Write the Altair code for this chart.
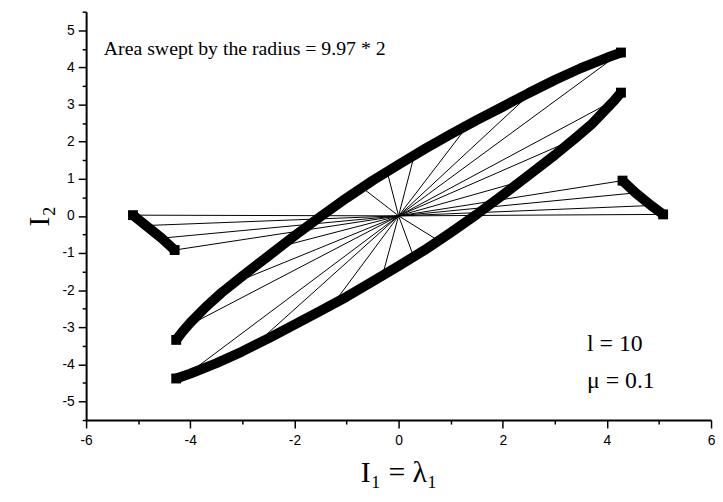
import altair as alt
import pandas as pd

# ---- thick curves (centre line) ----
upper_x = [-4.27, -4.15, -4.0, -3.7, -3.4, -3.0, -2.5, -2.0, -1.5, -1.0, -0.5, 0.0,
           0.5, 1.0, 1.5, 2.0, 2.5, 3.0, 3.5, 4.0, 4.27]
upper_y = [-3.34, -3.12, -2.88, -2.45, -2.07, -1.62, -1.08, -0.54, -0.02, 0.48, 0.95, 1.38,
           1.80, 2.20, 2.58, 2.94, 3.31, 3.66, 3.98, 4.26, 4.40]
lower_x = [-4.27, -4.0, -3.5, -3.0, -2.5, -2.0, -1.5, -1.0, -0.5, 0.0, 0.5, 1.0,
           1.5, 2.0, 2.5, 3.0, 3.4, 3.7, 4.0, 4.15, 4.27]
lower_y = [-4.38, -4.25, -3.97, -3.65, -3.30, -2.93, -2.56, -2.18, -1.77, -1.35, -0.92, -0.45,
           0.04, 0.56, 1.10, 1.64, 2.10, 2.46, 2.90, 3.12, 3.32]
left_x = [-5.10, -4.85, -4.55, -4.30]
left_y = [0.02, -0.26, -0.60, -0.92]
right_x = [4.30, 4.55, 4.85, 5.08]
right_y = [0.95, 0.62, 0.28, 0.04]

# ---- radius lines from the origin to points on the curves ----
ray_x = [4.27, 2.75, 1.43, 0.30, -0.22, -0.70, -2.25, -3.15, -4.10,
         -4.08, -2.78, -1.26, -0.31, 0.29, 0.77, 2.35, 3.30, 4.15,
         -5.10, -4.85, -4.55, -4.30,
         4.30, 4.55, 4.85, 5.08]
ray_y = [4.40, 3.58, 2.62, 1.63, 1.19, 0.76, -0.82, -1.80, -3.00,
         -4.29, -3.50, -2.38, -1.61, -1.10, -0.67, 0.93, 2.02, 3.12,
         0.02, -0.26, -0.60, -0.92,
         0.95, 0.62, 0.28, 0.04]

# ---- annotations ----
note_text = ["Area swept by the radius = 9.97 * 2", "l = 10", "\u03bc = 0.1"]
note_x = [-5.66, 3.62, 3.62]
note_y = [4.48, -3.46, -4.45]
note_size = [20, 24, 24]

x_ticks = [-6, -5, -4, -3, -2, -1, 0, 1, 2, 3, 4, 5, 6]
y_ticks = [-5.5, -5, -4.5, -4, -3.5, -3, -2.5, -2, -1.5, -1, -0.5, 0,
           0.5, 1, 1.5, 2, 2.5, 3, 3.5, 4, 4.5, 5, 5.5]

frames = []
for name, xs_, ys_ in [("upper", upper_x, upper_y), ("lower", lower_x, lower_y),
                       ("left", left_x, left_y), ("right", right_x, right_y)]:
    n = len(xs_)
    frames.append(pd.DataFrame({"x": xs_, "y": ys_, "i": list(range(n)), "curve": name,
                                "end": [k in (0, n - 1) for k in range(n)]}))
curves = pd.concat(frames, ignore_index=True)

rays = pd.DataFrame({"x": [0.0] * len(ray_x), "y": [0.0] * len(ray_y), "x2": ray_x, "y2": ray_y})
notes = pd.DataFrame({"x": note_x, "y": note_y, "label": note_text, "size": note_size})

xaxis = alt.Axis(values=x_ticks, title="I\u2081 = \u03bb\u2081", grid=False,
                 labelExpr="datum.value % 2 === 0 ? '' + datum.value : ''",
                 tickSize={"condition": {"test": "datum.value % 2 === 0", "value": 8}, "value": 4},
                 labelFlush=False, labelOverlap=False, labelPadding=6,
                 titlePadding=10)
yaxis = alt.Axis(values=y_ticks, title="I\u2082", grid=False,
                 labelExpr="datum.value % 1 === 0 ? '' + datum.value : ''",
                 tickSize={"condition": {"test": "datum.value % 1 === 0", "value": 8}, "value": 4},
                 labelFlush=False, labelOverlap=False, labelPadding=4,
                 titlePadding=8)

X = alt.X("x:Q", scale=alt.Scale(domain=[-6, 6], nice=False, zero=False), axis=xaxis)
Y = alt.Y("y:Q", scale=alt.Scale(domain=[-5.5, 5.5], nice=False, zero=False), axis=yaxis)

ray_layer = alt.Chart(rays).mark_rule(color="black", strokeWidth=1).encode(
    x=X, y=Y, x2="x2:Q", y2="y2:Q")

curve_layer = alt.Chart(curves).mark_line(color="black", strokeWidth=10, strokeCap="butt",
                                          strokeJoin="round").encode(
    x=X, y=Y, detail="curve:N", order="i:Q")

end_layer = alt.Chart(curves).transform_filter("datum.end").mark_point(
    shape="square", filled=True, size=100, color="black", opacity=1).encode(x=X, y=Y)

note_layer = alt.Chart(notes).mark_text(align="left", baseline="middle", font="Liberation Serif",
                                        color="black").encode(
    x=X, y=Y, text="label:N", size=alt.Size("size:Q", scale=None, legend=None))

chart = alt.layer(ray_layer, curve_layer, end_layer, note_layer).properties(
    width=632, height=413,
    autosize=alt.AutoSizeParams(type="none"),
    padding={"left": 79, "top": 1, "right": 4, "bottom": 70},
    background="white",
).configure_view(stroke=None).configure_axis(
    domainColor="black", domainWidth=2, tickColor="black", tickWidth=1.5,
    labelFont="Liberation Sans", labelFontSize=14, labelColor="black",
    titleFont="Liberation Serif", titleFontSize=30, titleFontWeight="normal", titleColor="black",
)

chart.save("out.html", embed_options={"renderer": "svg", "actions": False})
